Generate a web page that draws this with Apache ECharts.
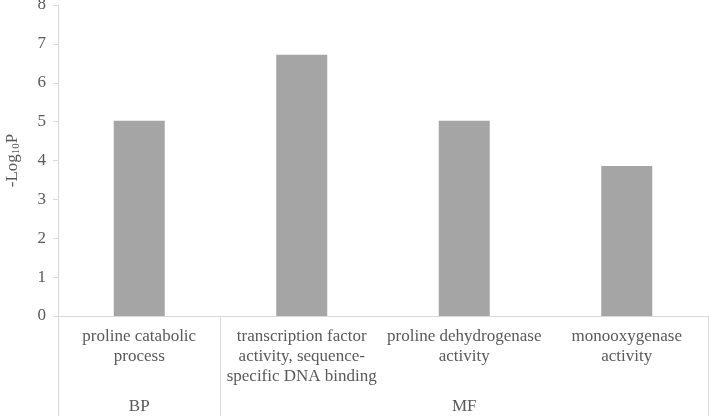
<!DOCTYPE html>
<html>
<head>
<meta charset="utf-8">
<script src="https://cdn.jsdelivr.net/npm/echarts@6/dist/echarts.min.js"></script>
<style>html,body{margin:0;padding:0;background:#fff}#c{width:709px;height:416px}</style>
</head>
<body>
<div id="c"></div>
<script>
const categories = ['proline catabolic\nprocess', 'transcription factor\nactivity, sequence-\nspecific DNA binding', 'proline dehydrogenase\nactivity', 'monooxygenase\nactivity'];
const values = [5.02, 6.72, 5.02, 3.86];
const groupNames = ['BP', 'MF'];
const groupSpans = [1, 3];
const yTicks = [0, 1, 2, 3, 4, 5, 6, 7, 8];

// derive group starts and label positions
const groupStart = {};
const groupLabel = {};
let idx = 0;
groupNames.forEach((g, i) => {
  groupStart[idx] = true;
  groupLabel[idx + Math.floor(groupSpans[i] / 2)] = g;
  idx += groupSpans[i];
});
const groupAxisData = categories.map((c, i) => groupLabel[i] || '');

const FONT = '"Liberation Serif", "DejaVu Serif", serif';
const TXT = '#595959';
const LINE = '#d9d9d9';

const chart = echarts.init(document.getElementById('c'), null, {renderer: 'canvas'});
chart.setOption({
  animation: false,
  grid: {left: 58, right: 1, top: 5, bottom: 100, containLabel: false, outerBoundsMode: 'none'},
  xAxis: [{
    type: 'category',
    data: categories,
    axisLine: {show: true, lineStyle: {color: LINE, width: 1}},
    axisTick: {show: false},
    axisLabel: {interval: 0, margin: 11, fontFamily: FONT, fontSize: 17, lineHeight: 20, color: TXT, align: 'center'}
  }, {
    type: 'category',
    data: groupAxisData,
    position: 'bottom',
    axisLine: {show: false},
    axisTick: {show: true, length: 100, interval: (i) => !!groupStart[i], lineStyle: {color: LINE, width: 1}},
    axisLabel: {interval: 0, margin: 81, fontFamily: FONT, fontSize: 17, lineHeight: 20, color: TXT}
  }],
  yAxis: {
    type: 'value',
    min: yTicks[0],
    max: yTicks[yTicks.length - 1],
    interval: 1,
    name: '-Log{sub|10}P',
    nameLocation: 'middle',
    nameGap: 36,
    nameRotate: 90,
    nameTextStyle: {fontFamily: FONT, fontSize: 17, color: TXT, lineHeight: 18,
      rich: {sub: {fontFamily: FONT, fontSize: 11, color: TXT, verticalAlign: 'bottom', lineHeight: 12, padding: [6, 0, 0, 0]}}},
    axisLine: {show: true, lineStyle: {color: LINE, width: 1}},
    axisTick: {show: true, length: 5, lineStyle: {color: LINE}},
    splitLine: {show: false},
    axisLabel: {margin: 12, fontFamily: FONT, fontSize: 17, color: TXT}
  },
  series: [{
    type: 'bar',
    data: values,
    barWidth: 51,
    itemStyle: {color: '#a5a5a5'}
  }]
});
</script>
</body>
</html>
